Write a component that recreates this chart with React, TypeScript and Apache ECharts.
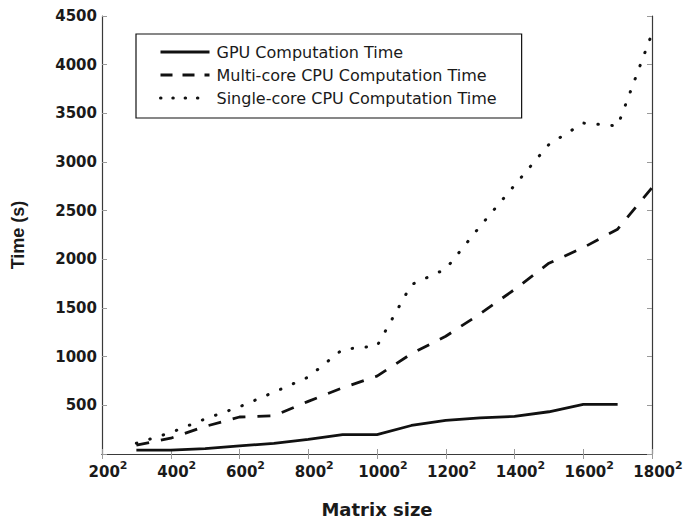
import React, { useEffect, useRef } from "react";
import * as echarts from "echarts";

const matrixSizes = [300, 400, 500, 600, 700, 800, 900, 1000, 1100, 1200, 1300, 1400, 1500, 1600, 1700, 1800];
const gpuTime = [40, 40, 55, 83, 110, 150, 200, 200, 293, 345, 372, 386, 434, 510, 510];
const multiCoreTime = [90, 162, 283, 380, 393, 541, 680, 800, 1030, 1210, 1440, 1690, 1960, 2120, 2310, 2735];
const singleCoreTime = [110, 220, 360, 485, 635, 790, 1075, 1110, 1740, 1900, 2340, 2760, 3180, 3400, 3370, 4320];

const seriesNames = ["GPU Computation Time", "Multi-core CPU Computation Time", "Single-core CPU Computation Time"];
const xTicks = [200, 400, 600, 800, 1000, 1200, 1400, 1600, 1800];
const yTicks = [0, 500, 1000, 1500, 2000, 2500, 3000, 3500, 4000, 4500];

const pairs = (vals: number[]) => vals.map((v, i) => [matrixSizes[i], v]);

export default function App() {
  const ref = useRef<HTMLDivElement>(null);
  useEffect(() => {
    if (!ref.current) return;
    const chart = echarts.init(ref.current, undefined, { renderer: "svg" });
    const tickStyle = { show: true, inside: true, length: 5, lineStyle: { color: "#9a9a9a", width: 1 } };
    const lineAxis = { show: true, lineStyle: { color: "#3a3a3a", width: 1.2 } };
    const xBase = { type: "value", min: xTicks[0], max: xTicks[xTicks.length - 1], interval: 200, splitLine: { show: false }, axisLine: lineAxis, axisTick: tickStyle };
    const yBase = { type: "value", min: yTicks[0], max: yTicks[yTicks.length - 1], interval: 500, splitLine: { show: false }, axisLine: lineAxis, axisTick: tickStyle };
    chart.setOption({
      animation: false,
      backgroundColor: "#ffffff",
      grid: { left: 102, right: 31, top: 16, bottom: 66, containLabel: false, outerBoundsMode: "none" },
      xAxis: [
        {
          ...xBase,
          position: "bottom",
          name: "Matrix size",
          nameLocation: "middle",
          nameGap: 46,
          nameTextStyle: { fontFamily: "DejaVu Sans", fontWeight: "bold", fontSize: 18, color: "#1a1a1a" },
          axisLabel: {
            margin: 6,
            padding: [0, 0, 0, 12],
            formatter: (v: number) => `{n|${v}}{s|2}`,
            rich: {
              n: { fontFamily: "DejaVu Sans", fontWeight: "bold", fontSize: 15, color: "#1a1a1a", lineHeight: 15, padding: [8, 0, 0, 0] },
              s: { fontFamily: "DejaVu Sans", fontWeight: "bold", fontSize: 11, color: "#1a1a1a", verticalAlign: "top", lineHeight: 11 },
            },
          },
        },
        { ...xBase, position: "top", axisLabel: { show: false } },
      ],
      yAxis: [
        {
          ...yBase,
          position: "left",
          name: "Time (s)",
          nameLocation: "middle",
          nameGap: 75,
          nameRotate: 90,
          nameTextStyle: { fontFamily: "Liberation Sans", fontWeight: "bold", fontSize: 18, color: "#1a1a1a" },
          axisLabel: {
            margin: 5,
            fontFamily: "DejaVu Sans",
            fontWeight: "bold",
            fontSize: 15,
            color: "#1a1a1a",
            formatter: (v: number) => (v === 0 ? "" : String(v)),
          },
        },
        { ...yBase, position: "right", axisLabel: { show: false } },
      ],
      legend: {
        orient: "vertical",
        left: 136,
        top: 34,
        padding: [10, 25, 12, 23],
        itemGap: 7,
        itemWidth: 49,
        itemHeight: 16,
        borderColor: "#111",
        borderWidth: 1.2,
        selectedMode: false,
        itemStyle: { opacity: 0 },
        textStyle: { fontFamily: "DejaVu Sans", fontSize: 16, color: "#1a1a1a", padding: [0, 0, 0, 2] },
        data: [
          { name: seriesNames[0], lineStyle: { width: 2.8, type: "solid" } },
          { name: seriesNames[1], lineStyle: { width: 2.8, type: [12, 10] } },
          { name: seriesNames[2], lineStyle: { width: 3, type: [0.5, 11.8], cap: "round" } },
        ],
      },
      series: [
        {
          name: seriesNames[0],
          type: "line",
          data: pairs(gpuTime),
          symbol: "none",
          itemStyle: { color: "#111" },
          lineStyle: { color: "#111", width: 2.8, type: "solid" },
        },
        {
          name: seriesNames[1],
          type: "line",
          data: pairs(multiCoreTime),
          symbol: "none",
          itemStyle: { color: "#111" },
          lineStyle: { color: "#111", width: 2.8, type: [13, 12] },
        },
        {
          name: seriesNames[2],
          type: "line",
          data: pairs(singleCoreTime),
          symbol: "none",
          itemStyle: { color: "#111" },
          lineStyle: { color: "#111", width: 3, type: [0.5, 13.5], cap: "round" },
        },
      ],
    });
    return () => chart.dispose();
  }, []);
  return <div ref={ref} style={{ position: "fixed", left: 0, top: 0, width: 683, height: 520 }} />;
}
